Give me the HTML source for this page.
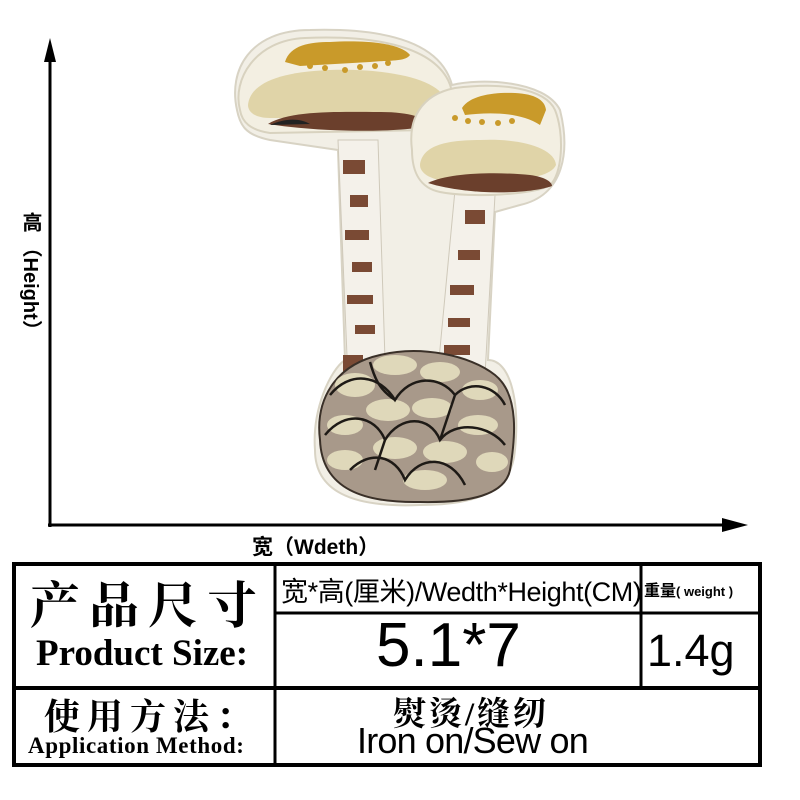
<!DOCTYPE html>
<html><head><meta charset="utf-8"><style>
html,body{margin:0;padding:0;background:#fff;}
#root{position:relative;width:800px;height:800px;overflow:hidden;background:#fff;font-family:"Liberation Sans","Noto Sans CJK SC",sans-serif;}
.t{position:absolute;white-space:nowrap;color:#000;}
</style></head><body>
<div id="root">
<svg width="800" height="800" style="position:absolute;left:0;top:0">
  <g>
    <line x1="50" y1="55" x2="50" y2="527" stroke="#000" stroke-width="3"/>
    <polygon points="50,38 44,62 56,62" fill="#000"/>
  </g>
  <g>
    <line x1="48" y1="525" x2="725" y2="525" stroke="#000" stroke-width="3"/>
    <polygon points="748,525 722,518 722,532" fill="#000"/>
  </g>
  <g>
    <path d="M237,110 C228,70 250,30 310,30 C380,28 440,40 452,85 C480,78 545,80 560,110 C570,150 565,195 520,205 L495,212 L488,360 C510,360 520,400 515,450 C512,490 480,505 420,505 C350,508 315,490 315,450 C312,410 330,370 345,360 L338,150 L270,140 C245,135 240,125 237,110 Z" fill="#f2efe6" stroke="#d8d3c4" stroke-width="2"/>
    <path d="M338,140 L378,140 L385,360 L348,380 Z" fill="#f4f1ea" stroke="#cfc9ba"/>
    <g fill="#7a4a34">
      <rect x="343" y="160" width="22" height="14"/><rect x="350" y="195" width="18" height="12"/><rect x="345" y="230" width="24" height="10"/><rect x="352" y="262" width="20" height="10"/><rect x="347" y="295" width="26" height="9"/><rect x="355" y="325" width="20" height="9"/><rect x="343" y="355" width="20" height="28"/>
    </g>
    <path d="M455,190 L495,195 L485,375 L438,370 Z" fill="#f4f1ea" stroke="#cfc9ba"/>
    <g fill="#7a4a34">
      <rect x="465" y="210" width="20" height="14"/><rect x="458" y="250" width="22" height="10"/><rect x="450" y="285" width="24" height="10"/><rect x="448" y="318" width="22" height="9"/><rect x="444" y="345" width="26" height="10"/><rect x="452" y="362" width="20" height="18"/>
    </g>
    <path d="M320,440 C315,400 335,365 380,355 C420,345 470,355 495,375 C520,395 515,440 510,470 C505,495 470,503 420,502 C365,503 322,490 320,440 Z" fill="#a8998a" stroke="#3a3028" stroke-width="2"/>
    <g fill="#e6dfc0" opacity="0.9">
      <ellipse cx="355" cy="385" rx="20" ry="12"/><ellipse cx="395" cy="365" rx="22" ry="10"/><ellipse cx="440" cy="372" rx="20" ry="10"/><ellipse cx="480" cy="390" rx="18" ry="10"/>
      <ellipse cx="345" cy="425" rx="18" ry="10"/><ellipse cx="388" cy="410" rx="22" ry="11"/><ellipse cx="432" cy="408" rx="20" ry="10"/><ellipse cx="478" cy="425" rx="20" ry="10"/>
      <ellipse cx="345" cy="460" rx="18" ry="10"/><ellipse cx="395" cy="448" rx="22" ry="11"/><ellipse cx="445" cy="452" rx="22" ry="11"/><ellipse cx="492" cy="462" rx="16" ry="10"/>
      <ellipse cx="425" cy="480" rx="22" ry="10"/>
    </g>
    <g fill="none" stroke="#1e1a16" stroke-width="2.5">
      <path d="M330,395 C350,370 380,375 395,400 C410,375 440,375 455,395 C470,380 495,385 505,405"/>
      <path d="M325,435 C345,410 375,415 385,440 C400,415 430,415 440,440 C455,420 490,425 505,445"/>
      <path d="M350,470 C370,450 395,455 405,480 C420,455 450,455 465,485"/>
      <path d="M370,362 C375,380 380,390 395,400 M455,395 L440,440 M385,440 L375,470"/>
    </g>
    <path d="M240,110 C232,80 255,40 305,38 C370,35 430,45 448,80 C460,105 445,125 430,130 L270,133 C250,130 242,122 240,110 Z" fill="#f3efe2" stroke="#d8d2bf" stroke-width="2"/>
    <path d="M248,105 C250,85 275,72 330,70 C390,68 440,80 445,100 C440,115 420,118 400,118 L270,118 C255,118 248,112 248,105 Z" fill="#e0d4a8"/>
    <path d="M285,62 C290,45 310,42 330,42 C360,40 400,42 410,55 C405,62 390,60 370,62 L300,66 Z" fill="#c99a2a"/>
    <g fill="#c99a2a"><circle cx="310" cy="66" r="3"/><circle cx="325" cy="68" r="3"/><circle cx="345" cy="70" r="3"/><circle cx="360" cy="67" r="3"/><circle cx="375" cy="66" r="3"/><circle cx="388" cy="63" r="3"/></g>
    <path d="M268,124 C290,110 340,112 380,112 C410,112 425,118 432,124 C420,132 330,134 268,124 Z" fill="#6b3f2c"/>
    <path d="M270,125 C285,118 300,118 310,124 Z" fill="#222"/>
    <path d="M412,150 C408,120 420,95 455,88 C500,82 545,88 555,110 C565,135 562,175 550,185 C535,195 470,198 440,192 C420,188 412,172 412,150 Z" fill="#f3efe2" stroke="#d8d2bf" stroke-width="2"/>
    <path d="M420,165 C422,148 440,140 480,140 C520,138 555,148 556,165 C550,178 520,180 490,180 L440,180 C428,178 420,172 420,165 Z" fill="#e0d4a8"/>
    <path d="M462,108 C470,95 495,92 515,93 C535,94 545,100 546,110 L540,125 C520,112 490,112 465,115 Z" fill="#c99a2a"/>
    <g fill="#c99a2a"><circle cx="455" cy="118" r="3"/><circle cx="468" cy="121" r="3"/><circle cx="482" cy="122" r="3"/><circle cx="498" cy="123" r="3"/><circle cx="512" cy="121" r="3"/></g>
    <path d="M428,183 C450,172 500,172 530,175 C545,177 552,182 552,186 C530,194 470,196 428,183 Z" fill="#6b3f2c"/>
  </g>
  <g fill="none" stroke="#000">
    <rect x="14" y="564" width="746" height="201" stroke-width="4"/>
    <line x1="275" y1="564" x2="275" y2="765" stroke-width="3"/>
    <line x1="14" y1="688" x2="760" y2="688" stroke-width="4"/>
    <line x1="275" y1="613" x2="760" y2="613" stroke-width="3"/>
    <line x1="641" y1="564" x2="641" y2="688" stroke-width="3"/>
  </g>
</svg>

<div class="t" style="left:18px;top:212px;writing-mode:vertical-rl;font-size:20px;font-weight:bold;line-height:24px;">高 （Height）</div>
<div class="t" style="left:252px;top:531px;font-size:21px;font-weight:bold;">宽（Wdeth）</div>

<div class="t" style="left:30px;top:566px;font-family:'Liberation Serif','Noto Serif CJK SC',serif;font-size:50px;letter-spacing:9px;font-weight:bold;">产品尺寸</div>
<div class="t" style="left:36px;top:632px;font-family:'Liberation Serif',serif;font-size:37px;font-weight:bold;letter-spacing:0px;">Product Size:</div>
<div class="t" style="left:281px;top:570px;font-size:27px;letter-spacing:-0.4px;">宽*高(厘米)/Wedth*Height(CM)</div>
<div class="t" style="left:644px;top:577px;font-size:16px;font-weight:bold;">重量<span style="font-size:13px">( weight )</span></div>
<div class="t" style="left:376px;top:610px;font-size:62px;">5.1*7</div>
<div class="t" style="left:647px;top:625px;font-size:45px;">1.4g</div>
<div class="t" style="left:44px;top:689px;font-family:'Liberation Serif','Noto Serif CJK SC',serif;font-size:36px;letter-spacing:7px;font-weight:bold;">使用方法：</div>
<div class="t" style="left:28px;top:733px;font-family:'Liberation Serif',serif;font-size:23px;font-weight:bold;letter-spacing:0.6px;">Application Method:</div>
<div class="t" style="left:393px;top:688px;font-family:'Liberation Serif','Noto Serif CJK SC',serif;font-size:33px;letter-spacing:3px;font-weight:bold;">熨烫/缝纫</div>
<div class="t" style="left:357px;top:720px;font-size:36px;letter-spacing:-0.8px;">Iron on/Sew on</div>
</div>
</body></html>
